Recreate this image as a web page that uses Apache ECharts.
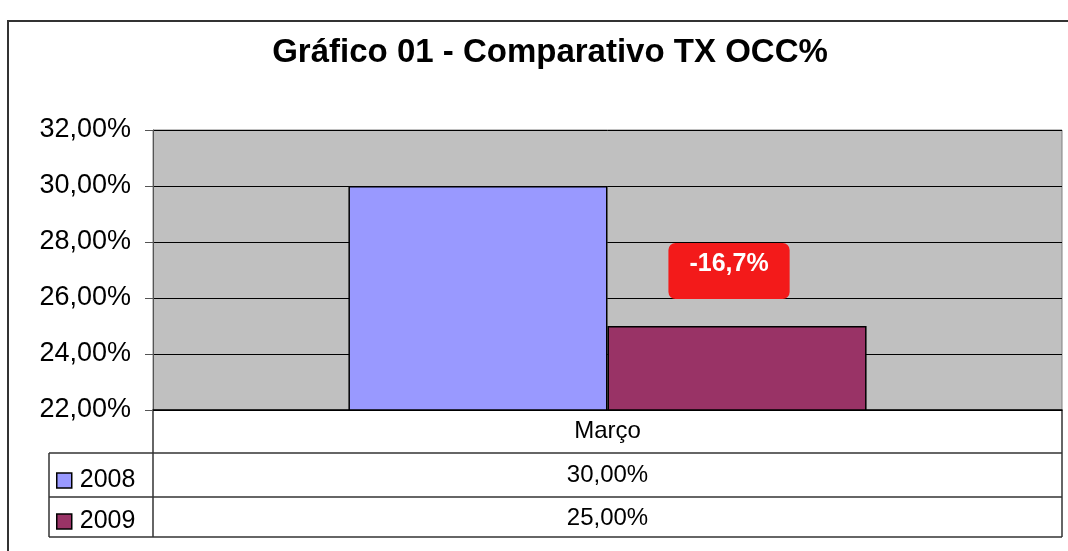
<!DOCTYPE html>
<html>
<head>
<meta charset="utf-8">
<script src="https://cdn.jsdelivr.net/npm/echarts@6/dist/echarts.min.js"></script>
<style>
html,body{margin:0;padding:0;background:#fff;}
#chart{width:1068px;height:551px;}
</style>
</head>
<body>
<div id="chart"></div>
<script>
var categories = ['Março'];
var seriesNames = ['2008', '2009'];
var values2008 = [30.00];
var values2009 = [25.00];
var yTicks = { min: 22, max: 32, interval: 2 };
var titleText = 'Gráfico 01 - Comparativo TX OCC%';

function fmtPct(v, d) { return v.toFixed(d).replace('.', ',') + '%'; }

var FONT = '"Liberation Sans", Arial, sans-serif';
var chart = echarts.init(document.getElementById('chart'), null, { renderer: 'canvas' });

var gridL = 153, gridR = 1062, gridT = 130, gridB = 410;
var rowY = [410, 453, 497, 537];
var legL = 49;
var lineColor = '#333333';

var option = {
  animation: false,
  backgroundColor: '#ffffff',
  title: {
    text: titleText,
    left: 545,
    textAlign: 'center',
    top: 31,
    textStyle: { fontFamily: FONT, fontSize: 33, fontWeight: 'bold', color: '#000' }
  },
  legend: {
    orient: 'vertical',
    left: 51,
    top: 463,
    itemWidth: 15,
    itemHeight: 15,
    itemGap: 16,
    icon: 'rect',
    data: seriesNames,
    textStyle: { fontFamily: FONT, fontSize: 25, lineHeight: 24, color: '#000', padding: [0, 0, 0, 3] },
    itemStyle: { borderColor: '#000', borderWidth: 1.5 }
  },
  grid: {
    left: gridL, right: 1068 - gridR, top: gridT, bottom: 551 - gridB,
    show: true, backgroundColor: '#c0c0c0', borderColor: '#808080', borderWidth: 1
  },
  xAxis: [
    {
      type: 'category', data: categories, position: 'bottom',
      axisLine: { show: true, lineStyle: { color: '#000', width: 1.5 } },
      axisTick: { show: false },
      axisLabel: { fontFamily: FONT, fontSize: 24, lineHeight: 24, color: '#000', margin: 9 }
    },
    {
      type: 'category', data: values2008.map(function (v) { return fmtPct(v, 2); }), position: 'bottom', offset: 44,
      axisLine: { show: false }, axisTick: { show: false }, splitLine: { show: false },
      axisLabel: { fontFamily: FONT, fontSize: 24, lineHeight: 24, color: '#000', margin: 9 }
    },
    {
      type: 'category', data: values2009.map(function (v) { return fmtPct(v, 2); }), position: 'bottom', offset: 87,
      axisLine: { show: false }, axisTick: { show: false }, splitLine: { show: false },
      axisLabel: { fontFamily: FONT, fontSize: 24, lineHeight: 24, color: '#000', margin: 9 }
    }
  ],
  yAxis: {
    type: 'value', min: yTicks.min, max: yTicks.max, interval: yTicks.interval,
    axisLine: { show: true, lineStyle: { color: '#555', width: 1 } },
    axisTick: { show: true, length: 8, lineStyle: { color: '#555' } },
    splitLine: { show: true, lineStyle: { color: '#000', width: 1 } },
    axisLabel: {
      fontFamily: FONT, fontSize: 27, color: '#000', margin: 22,
      formatter: function (v) { return fmtPct(v, 2); }
    }
  },
  series: [
    {
      name: seriesNames[0], type: 'bar', xAxisIndex: 0, data: values2008,
      barGap: '0%', barCategoryGap: '43%',
      itemStyle: { color: '#9999ff', borderColor: '#000', borderWidth: 1.5 }
    },
    {
      name: seriesNames[1], type: 'bar', xAxisIndex: 0, data: values2009,
      itemStyle: { color: '#993366', borderColor: '#000', borderWidth: 1.5 },
      label: {
        show: true, position: 'top', distance: 27, offset: [-8, 0],
        formatter: function (p) {
          var prev = values2008[p.dataIndex];
          var ch = (p.value - prev) / prev * 100;
          return (ch < 0 ? '-' : '+') + Math.abs(ch).toFixed(1).replace('.', ',') + '%';
        },
        fontFamily: FONT, fontSize: 25, fontWeight: 'bold', color: '#fff', lineHeight: 24,
        backgroundColor: '#f31a1a', borderRadius: 7, padding: [9, 21, 23, 21]
      }
    }
  ],
  graphic: [
    { type: 'rect', shape: { x: 8, y: 21, width: 1100, height: 600 }, style: { fill: 'none', stroke: lineColor, lineWidth: 2 }, silent: true },
    { type: 'line', shape: { x1: gridL, y1: gridB, x2: gridL, y2: rowY[3] }, style: { stroke: lineColor, lineWidth: 1.5 } },
    { type: 'line', shape: { x1: gridR, y1: gridB, x2: gridR, y2: rowY[3] }, style: { stroke: lineColor, lineWidth: 1.5 } },
    { type: 'line', shape: { x1: legL, y1: rowY[1], x2: gridR, y2: rowY[1] }, style: { stroke: lineColor, lineWidth: 1.5 } },
    { type: 'line', shape: { x1: legL, y1: rowY[2], x2: gridR, y2: rowY[2] }, style: { stroke: lineColor, lineWidth: 1.5 } },
    { type: 'line', shape: { x1: legL, y1: rowY[3], x2: gridR, y2: rowY[3] }, style: { stroke: lineColor, lineWidth: 1.5 } },
    { type: 'line', shape: { x1: legL, y1: rowY[1], x2: legL, y2: rowY[3] }, style: { stroke: lineColor, lineWidth: 1.5 } }
  ]
};
chart.setOption(option);
</script>
</body>
</html>
